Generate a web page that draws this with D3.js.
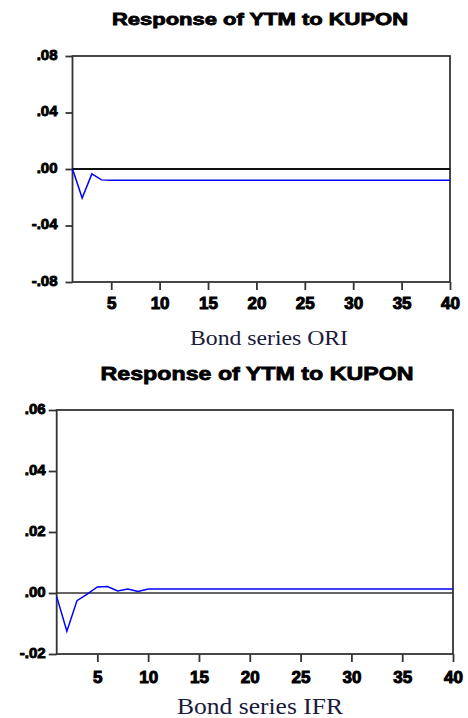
<!DOCTYPE html>
<html>
<head>
<meta charset="utf-8">
<script src="https://cdn.jsdelivr.net/npm/d3@7"></script>
<style>
  body { margin: 0; background: #fff; }
  svg { display: block; }
</style>
</head>
<body>
<svg id="chart" width="468" height="718"></svg>
<script>
// impulse response periods 1..40
const periods = d3.range(1, 41);

// Bond series ORI: response of YTM to KUPON
const oriValues = [
  0.0000, -0.0205, -0.0035, -0.0077, -0.0080, -0.0080, -0.0080, -0.0080, -0.0080, -0.0080,
  -0.0080, -0.0080, -0.0080, -0.0080, -0.0080, -0.0080, -0.0080, -0.0080, -0.0080, -0.0080,
  -0.0080, -0.0080, -0.0080, -0.0080, -0.0080, -0.0080, -0.0080, -0.0080, -0.0080, -0.0080,
  -0.0080, -0.0080, -0.0080, -0.0080, -0.0080, -0.0080, -0.0080, -0.0080, -0.0080, -0.0080
];

// Bond series IFR: response of YTM to KUPON
const ifrValues = [
  -0.0012, -0.0125, -0.0025, -0.0004, 0.0020, 0.0021, 0.0007, 0.0013, 0.0005, 0.0013,
  0.0013, 0.0013, 0.0013, 0.0013, 0.0013, 0.0013, 0.0013, 0.0013, 0.0013, 0.0013,
  0.0013, 0.0013, 0.0013, 0.0013, 0.0013, 0.0013, 0.0013, 0.0013, 0.0013, 0.0013,
  0.0013, 0.0013, 0.0013, 0.0013, 0.0013, 0.0013, 0.0013, 0.0013, 0.0013, 0.0013
];

const xTicks = [5, 10, 15, 20, 25, 30, 35, 40];

const oriYTicks = [0.08, 0.04, 0, -0.04, -0.08];
const oriYLabels = [".08", ".04", ".00", "-.04", "-.08"];

const ifrYTicks = [0.06, 0.04, 0.02, 0, -0.02];
const ifrYLabels = [".06", ".04", ".02", ".00", "-.02"];

const titleText = "Response of YTM to KUPON";

const svg = d3.select("#chart");

function drawPanel(opt) {
  const x = d3.scaleLinear().domain([1, 40]).range([opt.left, opt.right]);
  const y = d3.scaleLinear().domain(opt.yDomain).range([opt.bottom, opt.top]);
  const g = svg.append("g");

  // title
  g.append("text")
    .attr("x", opt.titleX)
    .attr("y", opt.titleY)
    .attr("text-anchor", "middle")
    .attr("font-family", "Liberation Sans, Arial, sans-serif")
    .attr("font-weight", "bold")
    .attr("font-size", opt.titleSize)
    .attr("textLength", opt.titleWidth)
    .attr("lengthAdjust", "spacingAndGlyphs")
    .attr("stroke", "#000")
    .attr("stroke-width", 0.8)
    .text(titleText);

  // frame
  g.append("rect")
    .attr("x", opt.left)
    .attr("y", opt.top)
    .attr("width", opt.right - opt.left)
    .attr("height", opt.bottom - opt.top)
    .attr("fill", "none")
    .attr("stroke", "#333")
    .attr("stroke-width", 1.8);

  // y axis
  const yAxis = g.append("g")
    .attr("transform", `translate(${opt.left},0)`)
    .call(d3.axisLeft(y)
      .tickValues(opt.yTicks)
      .tickFormat((d, i) => opt.yLabels[i])
      .tickSize(opt.yTickSize)
      .tickPadding(opt.yPad));
  yAxis.select(".domain").remove();
  yAxis.selectAll("line").attr("stroke", "#333").attr("stroke-width", 1.8);
  yAxis.selectAll("text")
    .attr("font-family", "Liberation Sans, Arial, sans-serif")
    .attr("font-weight", "bold")
    .attr("font-size", 15)
    .attr("fill", "#000")
    .attr("stroke", "#000")
    .attr("stroke-width", 0.9)
    .attr("dy", "0.2em");

  // x axis
  const xAxis = g.append("g")
    .attr("transform", `translate(0,${opt.bottom})`)
    .call(d3.axisBottom(x)
      .tickValues(xTicks)
      .tickSize(8)
      .tickPadding(opt.xPad));
  xAxis.select(".domain").remove();
  xAxis.selectAll("line").attr("stroke", "#333").attr("stroke-width", 1.8);
  xAxis.selectAll("text")
    .attr("font-family", "Liberation Sans, Arial, sans-serif")
    .attr("font-weight", "bold")
    .attr("font-size", 17)
    .attr("fill", "#000")
    .attr("stroke", "#000")
    .attr("stroke-width", 1);

  // zero line
  g.append("line")
    .attr("x1", opt.left).attr("x2", opt.right)
    .attr("y1", y(0)).attr("y2", y(0))
    .attr("stroke", opt.zeroColor)
    .attr("stroke-width", opt.zeroWidth);

  // response line
  const line = d3.line()
    .x((d, i) => x(periods[i]))
    .y(d => y(d));
  g.append("path")
    .datum(opt.values)
    .attr("d", line)
    .attr("fill", "none")
    .attr("stroke", "#0000ff")
    .attr("stroke-width", 1.5);

  // caption below
  g.append("text")
    .attr("x", opt.capX)
    .attr("y", opt.capY)
    .attr("text-anchor", "middle")
    .attr("font-family", "Liberation Serif, Times New Roman, serif")
    .attr("font-size", opt.capSize)
    .attr("fill", "#1a1a3a")
    .attr("textLength", opt.capWidth)
    .attr("lengthAdjust", "spacingAndGlyphs")
    .text(opt.caption);
}

drawPanel({
  left: 72.5, right: 450, top: 56, bottom: 282,
  yDomain: [-0.08, 0.08], yTicks: oriYTicks, yLabels: oriYLabels,
  yTickSize: 7, yPad: 8, xPad: 7,
  values: oriValues,
  zeroColor: "#111", zeroWidth: 1.8,
  titleX: 260, titleY: 25, titleSize: 16, titleWidth: 296,
  caption: "Bond series ORI", capX: 269, capY: 345, capSize: 21, capWidth: 158
});

drawPanel({
  left: 56.7, right: 453, top: 410, bottom: 654,
  yDomain: [-0.02, 0.06], yTicks: ifrYTicks, yLabels: ifrYLabels,
  yTickSize: 8, yPad: 3, xPad: 9,
  values: ifrValues,
  zeroColor: "#333", zeroWidth: 1.3,
  titleX: 257, titleY: 380, titleSize: 19, titleWidth: 313,
  caption: "Bond series IFR", capX: 260, capY: 714, capSize: 23, capWidth: 166
});
</script>
</body>
</html>
